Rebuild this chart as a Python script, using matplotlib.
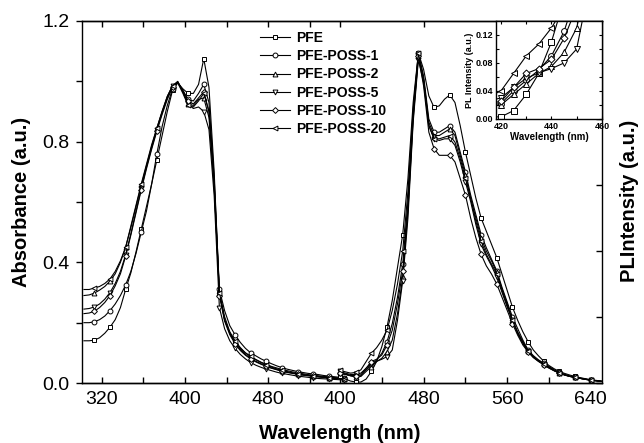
import matplotlib
matplotlib.use('Agg')
import matplotlib.pyplot as plt
from matplotlib.ticker import FixedLocator, FormatStrFormatter, NullFormatter

plt.rcParams['font.family'] = ['Liberation Sans', 'DejaVu Sans']

nomes = ['PFE', 'PFE-POSS-1', 'PFE-POSS-2', 'PFE-POSS-5', 'PFE-POSS-10', 'PFE-POSS-20']
marcadores = ['s', 'o', '^', 'v', 'D', '<']

# absorbance (left layer)
abs_wl = [303, 308, 313, 318, 323, 328, 333, 338, 343, 348,
          353, 358, 363, 368, 373, 378, 383, 388, 393, 398,
          403, 408, 413, 418, 423, 428, 433, 438, 443, 448,
          453, 458, 463, 468, 473, 478, 483, 488, 493, 498,
          503, 508, 513, 518, 523, 528, 533, 538, 543, 548, 553]
abs_pfe = [0.140, 0.140, 0.142, 0.150, 0.165, 0.185, 0.210, 0.250, 0.310, 0.365,
           0.435, 0.510, 0.585, 0.660, 0.740, 0.820, 0.900, 0.970, 0.995, 0.975,
           0.960, 0.960, 0.990, 1.075, 0.980, 0.700, 0.300, 0.210, 0.165, 0.135,
           0.115, 0.100, 0.088, 0.078, 0.069, 0.062, 0.055, 0.050, 0.045, 0.041,
           0.037, 0.034, 0.031, 0.028, 0.026, 0.024, 0.022, 0.020, 0.018, 0.017, 0.016]
abs_p1 = [0.200, 0.200, 0.203, 0.210, 0.222, 0.240, 0.262, 0.290, 0.325, 0.370,
          0.430, 0.500, 0.570, 0.660, 0.760, 0.850, 0.920, 0.975, 0.995, 0.970,
          0.940, 0.935, 0.960, 0.990, 0.930, 0.680, 0.310, 0.240, 0.190, 0.160,
          0.135, 0.115, 0.100, 0.090, 0.080, 0.072, 0.064, 0.057, 0.051, 0.046,
          0.042, 0.038, 0.035, 0.032, 0.030, 0.028, 0.025, 0.023, 0.021, 0.019, 0.018]
abs_p2 = [0.290, 0.292, 0.298, 0.308, 0.320, 0.338, 0.362, 0.400, 0.450, 0.515,
          0.585, 0.655, 0.720, 0.785, 0.845, 0.900, 0.950, 0.985, 0.998, 0.965,
          0.925, 0.920, 0.940, 0.945, 0.880, 0.650, 0.300, 0.210, 0.165, 0.135,
          0.112, 0.095, 0.082, 0.072, 0.064, 0.057, 0.050, 0.045, 0.040, 0.036,
          0.033, 0.030, 0.027, 0.025, 0.023, 0.021, 0.019, 0.017, 0.016, 0.015, 0.014]
abs_p5 = [0.245, 0.247, 0.252, 0.262, 0.278, 0.300, 0.330, 0.370, 0.425, 0.495,
          0.570, 0.645, 0.715, 0.780, 0.840, 0.895, 0.945, 0.985, 1.000, 0.965,
          0.925, 0.910, 0.915, 0.900, 0.840, 0.620, 0.250, 0.180, 0.140, 0.115,
          0.095, 0.080, 0.068, 0.059, 0.052, 0.046, 0.041, 0.036, 0.032, 0.029,
          0.026, 0.023, 0.021, 0.019, 0.017, 0.015, 0.014, 0.013, 0.012, 0.011, 0.010]
abs_p10 = [0.230, 0.232, 0.238, 0.250, 0.267, 0.290, 0.322, 0.362, 0.420, 0.490,
           0.565, 0.640, 0.710, 0.775, 0.835, 0.890, 0.940, 0.980, 0.998, 0.970,
           0.935, 0.925, 0.945, 0.965, 0.900, 0.660, 0.290, 0.205, 0.160, 0.130,
           0.108, 0.092, 0.080, 0.070, 0.062, 0.055, 0.049, 0.044, 0.039, 0.035,
           0.032, 0.029, 0.026, 0.024, 0.022, 0.020, 0.018, 0.017, 0.015, 0.014, 0.013]
abs_p20 = [0.310, 0.310, 0.315, 0.320, 0.330, 0.345, 0.370, 0.405, 0.450, 0.520,
           0.590, 0.660, 0.725, 0.790, 0.845, 0.900, 0.950, 0.985, 0.995, 0.960,
           0.920, 0.915, 0.935, 0.960, 0.900, 0.660, 0.300, 0.220, 0.170, 0.140,
           0.118, 0.100, 0.088, 0.077, 0.068, 0.060, 0.053, 0.047, 0.042, 0.038,
           0.034, 0.031, 0.028, 0.026, 0.024, 0.022, 0.020, 0.018, 0.016, 0.015, 0.014]

# PL (right layer)
pl_wl = [400, 405, 410, 415, 420, 425, 430, 435, 440, 445,
         450, 455, 460, 465, 470, 475, 480, 485, 490, 495,
         500, 505, 510, 515, 520, 525, 530, 535, 540, 545,
         550, 555, 560, 565, 570, 575, 580, 585, 590, 595,
         600, 605, 610, 615, 620, 625, 630, 635, 640, 645, 650]
pl_pfe = [0.020, 0.012, 0.006, 0.003, 0.003, 0.012, 0.035, 0.065, 0.110, 0.170,
          0.250, 0.350, 0.450, 0.620, 0.850, 1.000, 0.950, 0.870, 0.835, 0.840,
          0.860, 0.873, 0.850, 0.780, 0.700, 0.630, 0.560, 0.500, 0.460, 0.420,
          0.380, 0.330, 0.280, 0.230, 0.190, 0.155, 0.125, 0.100, 0.082, 0.066,
          0.053, 0.043, 0.035, 0.029, 0.024, 0.020, 0.016, 0.013, 0.010, 0.008, 0.006]
pl_p1 = [0.030, 0.026, 0.022, 0.020, 0.022, 0.040, 0.055, 0.070, 0.090, 0.125,
         0.180, 0.260, 0.360, 0.550, 0.820, 1.000, 0.930, 0.800, 0.760, 0.760,
         0.770, 0.780, 0.760, 0.700, 0.640, 0.570, 0.510, 0.450, 0.410, 0.375,
         0.340, 0.290, 0.245, 0.200, 0.165, 0.130, 0.100, 0.083, 0.070, 0.060,
         0.050, 0.040, 0.032, 0.026, 0.021, 0.018, 0.015, 0.012, 0.009, 0.007, 0.005]
pl_p2 = [0.032, 0.027, 0.022, 0.018, 0.020, 0.035, 0.050, 0.065, 0.075, 0.095,
         0.130, 0.210, 0.320, 0.520, 0.800, 0.990, 0.920, 0.790, 0.750, 0.750,
         0.760, 0.770, 0.750, 0.690, 0.630, 0.560, 0.500, 0.440, 0.400, 0.370,
         0.335, 0.285, 0.240, 0.190, 0.155, 0.125, 0.097, 0.080, 0.068, 0.058,
         0.048, 0.038, 0.031, 0.025, 0.020, 0.017, 0.014, 0.011, 0.009, 0.007, 0.005]
pl_p5 = [0.035, 0.030, 0.026, 0.026, 0.030, 0.045, 0.058, 0.066, 0.072, 0.080,
         0.100, 0.190, 0.310, 0.500, 0.790, 0.980, 0.910, 0.780, 0.740, 0.735,
         0.740, 0.740, 0.720, 0.670, 0.610, 0.550, 0.480, 0.420, 0.385, 0.355,
         0.320, 0.275, 0.230, 0.190, 0.150, 0.120, 0.095, 0.078, 0.066, 0.056,
         0.046, 0.037, 0.030, 0.024, 0.020, 0.017, 0.014, 0.011, 0.009, 0.007, 0.005]
pl_p10 = [0.030, 0.027, 0.023, 0.022, 0.025, 0.045, 0.065, 0.072, 0.085, 0.115,
          0.160, 0.240, 0.340, 0.530, 0.810, 0.990, 0.900, 0.760, 0.710, 0.690,
          0.690, 0.690, 0.670, 0.620, 0.570, 0.500, 0.440, 0.390, 0.355, 0.330,
          0.300, 0.260, 0.220, 0.180, 0.145, 0.115, 0.094, 0.077, 0.065, 0.055,
          0.045, 0.037, 0.030, 0.024, 0.020, 0.017, 0.014, 0.011, 0.009, 0.007, 0.005]
pl_p20 = [0.038, 0.034, 0.030, 0.032, 0.040, 0.065, 0.090, 0.107, 0.130, 0.160,
          0.220, 0.300, 0.400, 0.580, 0.830, 1.000, 0.920, 0.780, 0.740, 0.740,
          0.745, 0.750, 0.730, 0.680, 0.620, 0.560, 0.490, 0.430, 0.390, 0.360,
          0.330, 0.280, 0.235, 0.190, 0.152, 0.122, 0.096, 0.079, 0.067, 0.057,
          0.047, 0.038, 0.031, 0.025, 0.020, 0.017, 0.014, 0.011, 0.009, 0.007, 0.005]

abs_all = [abs_pfe, abs_p1, abs_p2, abs_p5, abs_p10, abs_p20]
pl_all = [pl_pfe, pl_p1, pl_p2, pl_p5, pl_p10, pl_p20]

fig = plt.figure(figsize=(6.44, 4.43), dpi=100)
rect = [0.1273, 0.1354, 0.8075, 0.8172]

ax_abs = fig.add_axes(rect)
ax_pl = fig.add_axes(rect, facecolor='none')


def estilo(m, tam=3.5):
    ms = tam * 0.85 if m == 'D' else tam
    return dict(color='black', lw=0.8, marker=m, ms=ms, mfc='white', mec='black', mew=0.7)


linhas = []
for nome, m, ys in zip(nomes, marcadores, abs_all):
    ln, = ax_abs.plot(abs_wl, ys, markevery=(2, 3), label=nome, **estilo(m))
    linhas.append(ln)

for m, ys in zip(marcadores, pl_all):
    ax_pl.plot(pl_wl, ys, markevery=3, **estilo(m))

# left layer: absorbance
ax_abs.set_xlim(301.1, 800.3)
ax_abs.set_ylim(0, 1.2)
ax_abs.xaxis.set_major_locator(FixedLocator([320, 400, 480]))
ax_abs.xaxis.set_minor_locator(FixedLocator([360, 440, 520]))
ax_abs.yaxis.set_major_locator(FixedLocator([0.0, 0.4, 0.8, 1.2]))
ax_abs.yaxis.set_minor_locator(FixedLocator([0.2, 0.6, 1.0]))
ax_abs.yaxis.set_major_formatter(FormatStrFormatter('%.1f'))
ax_abs.tick_params(axis='x', which='both', direction='in', top=True, length=4.5,
                   width=1, labelsize=14, pad=6)
ax_abs.tick_params(axis='y', which='both', direction='out', right=False, length=4,
                   width=1, labelsize=14, pad=5)
ax_abs.spines['right'].set_visible(False)
for s in ax_abs.spines.values():
    s.set_linewidth(1.0)

# right layer: PL
ax_pl.set_xlim(153.1, 650.7)
ax_pl.set_ylim(0, 1.097)
ax_pl.xaxis.set_major_locator(FixedLocator([400, 480, 560, 640]))
ax_pl.xaxis.set_minor_locator(FixedLocator([440, 520, 600]))
ax_pl.yaxis.tick_right()
ax_pl.yaxis.set_major_locator(FixedLocator([0.0, 0.2, 0.4, 0.6, 0.8, 1.0]))
ax_pl.yaxis.set_major_formatter(NullFormatter())
ax_pl.tick_params(axis='x', which='major', direction='in', top=True, length=4.5,
                  width=1, labelsize=14, pad=6)
ax_pl.tick_params(axis='x', which='minor', direction='in', top=False, length=4.5, width=1)
ax_pl.tick_params(axis='y', direction='in', length=4.5, width=1, left=False, right=True)
ax_pl.spines['left'].set_visible(False)
for s in ax_pl.spines.values():
    s.set_linewidth(1.0)

ax_pl.legend(handles=linhas, loc='upper left', bbox_to_anchor=(0.342, 0.972),
             frameon=False, borderpad=0, borderaxespad=0, handlelength=2.2,
             handletextpad=0.4, labelspacing=0.3,
             prop={'weight': 'bold', 'size': 10})

fig.text(0.034, 0.544, 'Absorbance (a.u.)', rotation=90, ha='center', va='center',
         fontsize=14.5, fontweight='bold')
fig.text(0.978, 0.546, 'PLIntensity (a.u.)', rotation=90, ha='center', va='center',
         fontsize=14.5, fontweight='bold')
fig.text(0.528, 0.008, 'Wavelength (nm)', ha='center', va='baseline',
         fontsize=14.5, fontweight='bold')

# inset
ins = fig.add_axes([0.770, 0.7314, 0.1646, 0.2212])
ins.set_facecolor('white')
for m, ys in zip(marcadores, pl_all):
    ins.plot(pl_wl, ys, **estilo(m, 4.2))
ins.set_xlim(418, 460)
ins.set_ylim(0, 0.14)
ins.xaxis.set_major_locator(FixedLocator([420, 440, 460]))
ins.xaxis.set_minor_locator(FixedLocator([430, 450]))
ins.yaxis.set_major_locator(FixedLocator([0.00, 0.04, 0.08, 0.12]))
ins.yaxis.set_minor_locator(FixedLocator([0.02, 0.06, 0.10]))
ins.yaxis.set_major_formatter(FormatStrFormatter('%.2f'))
ins.tick_params(which='both', direction='in', top=True, right=True, length=2.5,
                width=0.8, labelsize=6.5, pad=2)
for lb in ins.get_xticklabels() + ins.get_yticklabels():
    lb.set_fontweight('bold')
ins.set_xlabel('Wavelength (nm)', fontsize=7, fontweight='bold', labelpad=1)
ins.set_ylabel('PL Intensity (a.u.)', fontsize=6.5, fontweight='bold', labelpad=1)
for s in ins.spines.values():
    s.set_linewidth(1.0)

fig.savefig('out.png', dpi=100)
